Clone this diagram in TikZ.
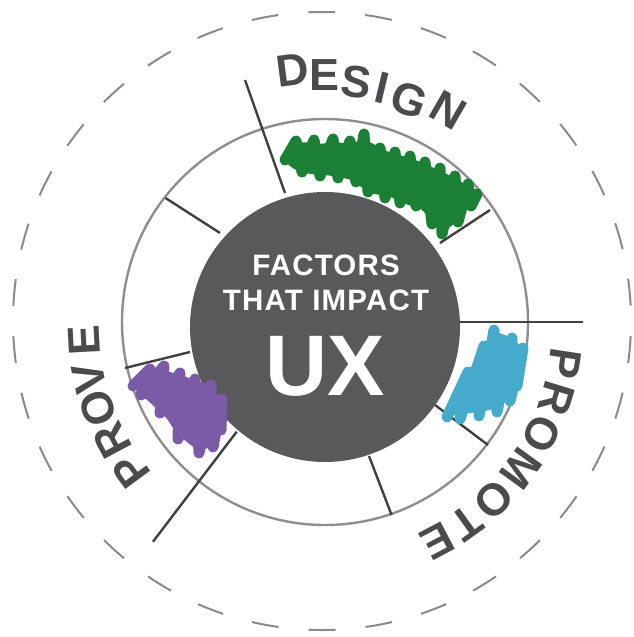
\documentclass[tikz,border=0pt]{standalone}
\usepackage{fontspec}
\setmainfont{Liberation Sans}
\definecolor{darkcirc}{HTML}{59595B}
\definecolor{labelgray}{HTML}{4B4B4D}
\definecolor{spokecol}{HTML}{404040}
\definecolor{ringcol}{HTML}{8E8E8E}
\definecolor{dashcol}{HTML}{8A8A8A}
\definecolor{scribgreen}{HTML}{1B7F36}
\definecolor{scribcyan}{HTML}{45AACB}
\definecolor{scribpurple}{HTML}{7B5BA8}
\begin{document}
\begin{tikzpicture}[x=1pt,y=-1pt,
  lbl/.style={font=\fontsize{45}{45}\selectfont\bfseries, text=labelgray, inner sep=0pt, anchor=center},
  ctext/.style={text=white, inner sep=0pt, anchor=center},
  spoke/.style={draw=spokecol, line width=2.4pt},
  scrib/.style={line width=4pt, line join=round, line cap=round, rounded corners=3pt},
  zig/.style={line width=11pt, line join=round, line cap=round}]
\useasboundingbox (0,0) rectangle (633,637);
% outer dashed circle
\draw[dashcol, line width=2pt, dash pattern=on 27pt off 30.1pt, dash phase=42pt] (322,321) circle (309);
% ring
\draw[ringcol, line width=2.4pt] (325,322) circle (203);
% spokes
\coordinate (s1a) at (285,193); \coordinate (s1b) at (245,80);
\coordinate (s2a) at (220,233); \coordinate (s2b) at (165.5,198);
\coordinate (s3a) at (440,243); \coordinate (s3b) at (490,210);
\coordinate (s4a) at (455,321.7); \coordinate (s4b) at (582.7,321.7);
\coordinate (s5a) at (435,405); \coordinate (s5b) at (488,445);
\coordinate (s6a) at (369,456); \coordinate (s6b) at (391.6,515);
\coordinate (s7a) at (236.7,431.7); \coordinate (s7b) at (153,541.7);
\coordinate (s8a) at (190,352); \coordinate (s8b) at (125,368);
\foreach \s in {1,...,8} {\draw[spoke] (s\s a) -- (s\s b);}
% core
\node[circle, fill=darkcirc, minimum size=270pt, inner sep=0pt] (core) at (325,327) {};
% scribbles
\filldraw[scrib, draw=scribgreen, fill=scribgreen] (286,152) -- (292,146) -- (305,144) -- (320,146) -- (335,144) -- (350,146) -- (362,142) -- (372,145) -- (380,151) -- (395,156) -- (410,160) -- (425,166) -- (440,173) -- (455,180) -- (465,187) -- (471,195) -- (468,205) -- (461,214) -- (452,223) -- (444,229) -- (440,228) -- (434,220) -- (425,210) -- (417,203) -- (410,204) -- (400,198) -- (390,195) -- (380,193) -- (370,191) -- (362,185) -- (352,178) -- (340,175) -- (325,173) -- (310,172) -- (296,168) -- (288,162) -- cycle;
\draw[zig, scribgreen] (285,160) -- (296,141) -- (302,172) -- (314,140) -- (320,176) -- (333,139) -- (338,178) -- (350,141) -- (356,182) -- (364,134) -- (368,192) -- (380,148) -- (385,198) -- (395,152) -- (400,203) -- (410,156) -- (416,206) -- (425,162) -- (432,224) -- (440,168) -- (442,234) -- (455,176) -- (458,222) -- (468,184) -- (471,206) -- (477,194);
\filldraw[scrib, draw=scribcyan, fill=scribcyan] (496,334) -- (502,336) -- (512,340) -- (518,346) -- (520,353) -- (518,362) -- (514,374) -- (511,386) -- (507,397) -- (500,403) -- (490,408) -- (478,410) -- (463,412) -- (453,413) -- (450,410) -- (452,403) -- (458,394) -- (463,384) -- (470,372) -- (478,361) -- (484,349) -- (490,339) -- cycle;
\draw[zig, scribcyan] (447,417) -- (468,372) -- (460,419) -- (484,346) -- (479,416) -- (494,330) -- (497,412) -- (512,338) -- (510,401) -- (523,348) -- (517,386);
\filldraw[scrib, draw=scribpurple, fill=scribpurple] (137,382) -- (141,376) -- (150,373) -- (160,372) -- (170,374) -- (180,377) -- (192,381) -- (204,385) -- (212,391) -- (218,399) -- (219,410) -- (217,427) -- (212,439) -- (206,447) -- (201,449) -- (194,445) -- (185,438) -- (176,429) -- (169,418) -- (159,408) -- (149,399) -- (141,393) -- (137,388) -- cycle;
\draw[zig, scribpurple] (133,386) -- (150,369) -- (141,395) -- (164,366) -- (160,413) -- (180,373) -- (178,439) -- (195,379) -- (199,453) -- (211,385) -- (213,447) -- (222,399) -- (221,430);
% centre text
\node[ctext, font=\fontsize{29.5}{30}\selectfont\bfseries\addfontfeature{LetterSpace=4}] (t1) at (326,265) {FACTORS};
\node[ctext, font=\fontsize{29.5}{30}\selectfont\bfseries\addfontfeature{LetterSpace=4}] (t2) at (326,300) {THAT IMPACT};
\node[ctext, font=\fontsize{86}{86}\selectfont\bfseries] (t3) at (325,366) {UX};
% DESIGN
\node[lbl, rotate=7.4] (d1) at (292.5,70) {D};
\node[lbl, rotate=0] (d2) at (325,75) {E};
\node[lbl, rotate=-7.4] (d3) at (356.7,81.7) {S};
\node[lbl, rotate=-13.4] (d4) at (381.7,88.3) {I};
\node[lbl, rotate=-20.1] (d5) at (409,99.5) {G};
\node[lbl, rotate=-30] (d6) at (448,110.5) {N};
% PROMOTE
\node[lbl, rotate=-98.6] (p1) at (564.3,363.2) {P};
\node[lbl, rotate=-107.1] (p2) at (556.3,398.3) {R};
\node[lbl, rotate=-116.3] (p3) at (542.0,434.1) {O};
\node[lbl, rotate=-126.0] (p4) at (520.8,469.2) {M};
\node[lbl, rotate=-135.7] (p5) at (493.9,500.3) {O};
\node[lbl, rotate=-144.3] (p6) at (466.3,523.5) {T};
\node[lbl, rotate=-152.2] (p7) at (437.8,541.1) {E};
% PROVE
\node[lbl, rotate=126.5] (v1) at (131.3,470.4) {P};
\node[lbl, rotate=118.1] (v2) at (112.4,440.5) {R};
\node[lbl, rotate=109.7] (v3) at (98.1,408.2) {O};
\node[lbl, rotate=102.2] (v4) at (89.4,377.9) {V};
\node[lbl, rotate=93.1] (v5) at (84.4,340.0) {E};
\end{tikzpicture}
\end{document}
